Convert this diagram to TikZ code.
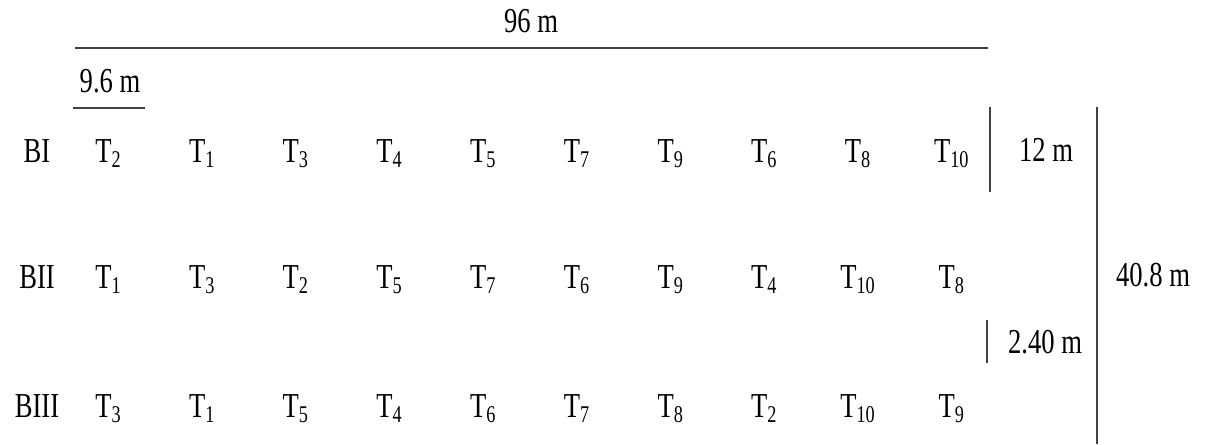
\documentclass[tikz,border=0pt]{standalone}
\usepackage{fontspec}
\setmainfont{Liberation Serif}[FakeStretch=0.76]
\newcommand{\trt}[1]{T\raisebox{-0.32ex}{\fontsize{12}{12}\selectfont #1}}

\begin{document}
\begin{tikzpicture}[x=0.5pt, y=-0.5pt, font=\fontsize{17.5}{20}\selectfont,
    dim/.style={line width=0.6pt, black!75},
    lbl/.style={anchor=base, inner sep=0pt}]
    \useasboundingbox (0,0) rectangle (1213,444);
    % overall length
    \node[lbl] (len) at (531,33) {96 m};
    \coordinate (lenA) at (75,48);
    \coordinate (lenB) at (988,48);
    \draw[dim] (lenA) -- (lenB);
    % plot width
    \node[lbl] (plot) at (110,92) {9.6 m};
    \coordinate (plotA) at (73,108);
    \coordinate (plotB) at (145,108);
    \draw[dim] (plotA) -- (plotB);
    % blocks
    \node[lbl] (b1) at (37,162) {BI};
    \node[lbl] (b2) at (37,288) {BII};
    \node[lbl] (b3) at (37,417) {BIII};
    \foreach \t [count=\i from 0] in {2,1,3,4,5,7,9,6,8,10}
        \node[lbl] (t1-\i) at (108+93.7*\i,162) {\trt{\t}};
    \foreach \t [count=\i from 0] in {1,3,2,5,7,6,9,4,10,8}
        \node[lbl] (t2-\i) at (108+93.7*\i,288) {\trt{\t}};
    \foreach \t [count=\i from 0] in {3,1,5,4,6,7,8,2,10,9}
        \node[lbl] (t3-\i) at (108+93.7*\i,417) {\trt{\t}};
    % block width
    \coordinate (bwA) at (990,107);
    \coordinate (bwB) at (990,192);
    \draw[dim] (bwA) -- (bwB);
    \node[lbl] (bw) at (1046,161) {12 m};
    % gap between blocks
    \coordinate (gapA) at (987,320);
    \coordinate (gapB) at (987,363);
    \draw[dim] (gapA) -- (gapB);
    \node[lbl] (gap) at (1045,353) {2.40 m};
    % total width
    \coordinate (totA) at (1097,107);
    \coordinate (totB) at (1097,444);
    \draw[dim] (totA) -- (totB);
    \node[lbl] (tot) at (1153,286) {40.8 m};
\end{tikzpicture}
\end{document}
